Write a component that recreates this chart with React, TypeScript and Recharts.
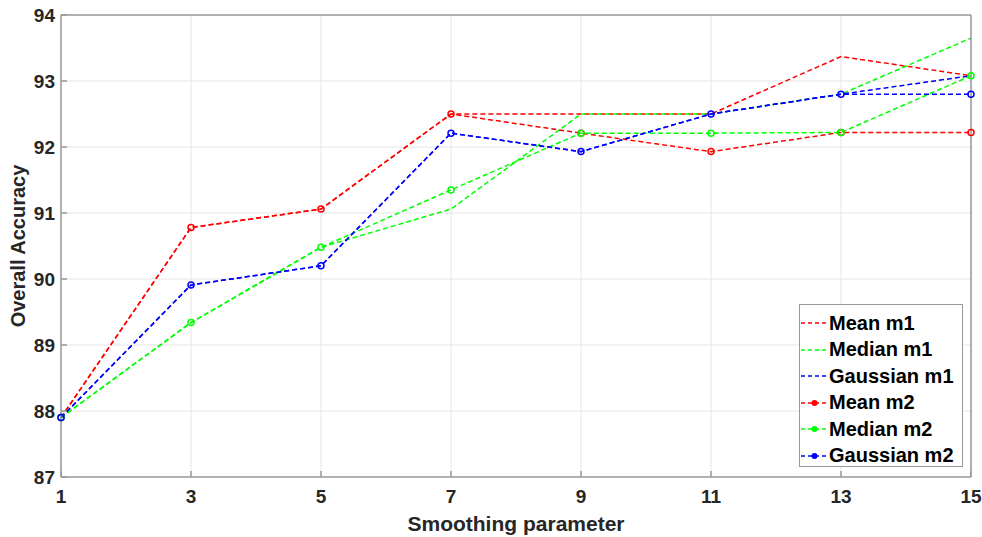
import React from "react";
import { LineChart, Line, XAxis, YAxis, CartesianGrid, Legend } from "recharts";

// smoothing window sizes on the x axis
const smoothing = [1, 3, 5, 7, 9, 11, 13, 15];
const yTicks = [87, 88, 89, 90, 91, 92, 93, 94];

// overall accuracy per method
const meanM1 = [87.9, 90.78, 91.06, 92.5, 92.5, 92.5, 93.37, 93.08];
const medianM1 = [87.9, 89.34, 90.48, 91.06, 92.5, 92.5, 92.8, 93.65];
const gaussianM1 = [87.9, 89.91, 90.2, 92.21, 91.93, 92.5, 92.8, 93.08];
const meanM2 = [87.9, 90.78, 91.06, 92.5, 92.21, 91.93, 92.22, 92.22];
const medianM2 = [87.9, 89.34, 90.48, 91.35, 92.21, 92.21, 92.22, 93.08];
const gaussianM2 = [87.9, 89.91, 90.2, 92.21, 91.93, 92.5, 92.8, 92.8];

const series = [
  { key: "meanM1", name: "Mean m1", color: "#ff0000", marker: false, values: meanM1 },
  { key: "medianM1", name: "Median m1", color: "#00ff00", marker: false, values: medianM1 },
  { key: "gaussianM1", name: "Gaussian m1", color: "#0000ff", marker: false, values: gaussianM1 },
  { key: "meanM2", name: "Mean m2", color: "#ff0000", marker: true, values: meanM2 },
  { key: "medianM2", name: "Median m2", color: "#00ff00", marker: true, values: medianM2 },
  { key: "gaussianM2", name: "Gaussian m2", color: "#0000ff", marker: true, values: gaussianM2 },
];

const data = smoothing.map((x, i) => {
  const row: Record<string, number> = { x };
  series.forEach((s) => {
    row[s.key] = s.values[i];
  });
  return row;
});

const FONT = '"Liberation Sans", Arial, sans-serif';
const TEXT = "#262626";
const AXIS = "#9a9a9a";
const DASH = "5 3";

function LegendBox() {
  return (
    <div
      style={{
        width: 164,
        height: 163,
        boxSizing: "border-box",
        border: `1px solid ${AXIS}`,
        background: "#fff",
        paddingTop: 5,
        fontFamily: FONT,
        fontWeight: "bold",
        fontSize: 20,
        color: "#000",
      }}
    >
      {series.map((s) => (
        <div
          key={s.key}
          style={{ display: "flex", alignItems: "center", height: 26.5, whiteSpace: "nowrap" }}
        >
          <svg width={29} height={10} style={{ flex: "none" }}>
            <line x1={1} y1={5} x2={28} y2={5} stroke={s.color} strokeWidth={1.5} strokeDasharray="4 3" />
            {s.marker && <circle cx={14.5} cy={5} r={3} fill={s.color} />}
          </svg>
          <span>{s.name}</span>
        </div>
      ))}
    </div>
  );
}

export default function App() {
  return (
    <div style={{ position: "absolute", left: 0, top: 0, background: "#fff" }}>
      <LineChart
        width={982}
        height={537}
        data={data}
        margin={{ top: 14, right: 10, bottom: 0, left: 0 }}
      >
        <CartesianGrid stroke="#e6e6e6" strokeWidth={1} />
        <XAxis
          dataKey="x"
          type="number"
          domain={[1, 15]}
          ticks={smoothing}
          height={60}
          stroke={AXIS}
          strokeWidth={1.5}
          tickSize={-6}
          tickMargin={19}
          tick={{ fontSize: 19, fontWeight: "bold", fill: TEXT, fontFamily: FONT }}
          label={{
            value: "Smoothing parameter",
            position: "insideBottom",
            offset: 6,
            style: { fontSize: 21, fontWeight: "bold", fill: TEXT, fontFamily: FONT },
          }}
        />
        <XAxis
          xAxisId="top"
          orientation="top"
          type="number"
          domain={[1, 15]}
          ticks={smoothing}
          height={1}
          stroke={AXIS}
          strokeWidth={1.5}
          tickSize={-6}
          tick={false}
        />
        <YAxis
          type="number"
          domain={[87, 94]}
          ticks={yTicks}
          width={61}
          stroke={AXIS}
          strokeWidth={1.5}
          tickSize={-6}
          tickMargin={12}
          tick={{ fontSize: 19, fontWeight: "bold", fill: TEXT, fontFamily: FONT }}
          label={{
            value: "Overall Accuracy",
            angle: -90,
            position: "insideLeft",
            offset: 18,
            style: { textAnchor: "middle", fontSize: 20, fontWeight: "bold", fill: TEXT, fontFamily: FONT },
          }}
        />
        <YAxis
          yAxisId="right"
          orientation="right"
          type="number"
          domain={[87, 94]}
          ticks={yTicks}
          width={1}
          stroke={AXIS}
          strokeWidth={1.5}
          tickSize={-6}
          tick={false}
        />
        {series.map((s) => (
          <Line
            key={s.key}
            type="linear"
            dataKey={s.key}
            name={s.name}
            stroke={s.color}
            strokeWidth={1.5}
            strokeDasharray={DASH}
            isAnimationActive={false}
            dot={
              s.marker
                ? (p: any) => (
                    <circle
                      key={`${s.key}-${p.index}`}
                      cx={p.cx}
                      cy={p.cy}
                      r={3}
                      fill="none"
                      stroke={s.color}
                      strokeWidth={1.5}
                    />
                  )
                : false
            }
            activeDot={false}
          />
        ))}
        <Legend
          layout="vertical"
          align="center"
          verticalAlign="middle"
          wrapperStyle={{ left: 799, top: 304, width: 164, height: 163 }}
          content={() => <LegendBox />}
        />
      </LineChart>
    </div>
  );
}
